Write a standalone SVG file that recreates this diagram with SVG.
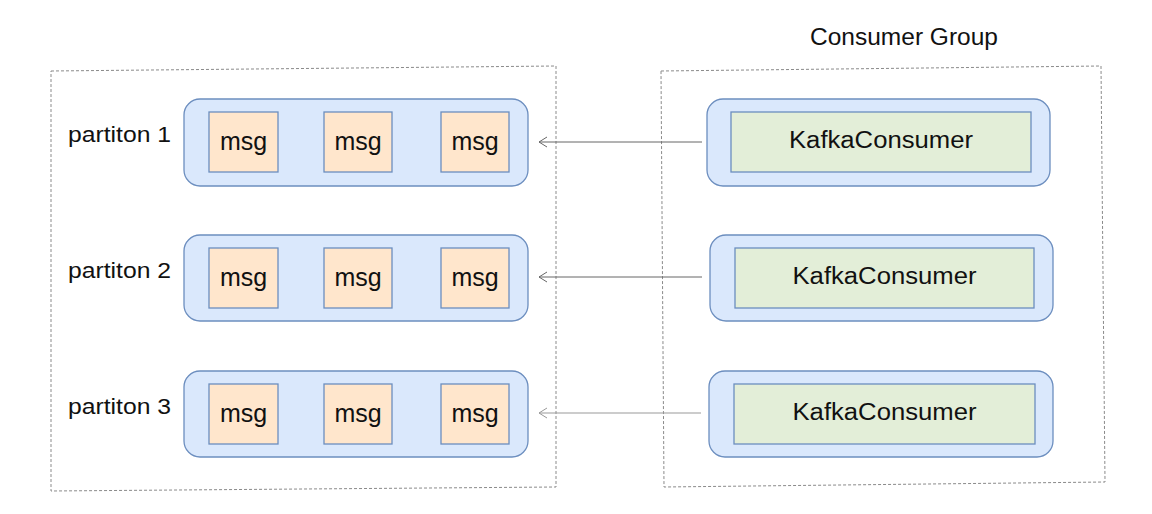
<svg xmlns="http://www.w3.org/2000/svg" width="1152" height="514" viewBox="0 0 1152 514">
<defs>
<style>
.frame{fill:none;stroke:#8a8a8a;stroke-width:1;stroke-dasharray:3 2}
.part{fill:#dae8fc;stroke:#6c8ebf;stroke-width:1.3}
.msg{fill:#ffe6cc;stroke:#6c8ebf;stroke-width:1.3}
.cons{fill:#e3eed8;stroke:#6c8ebf;stroke-width:1.3}
text{font-family:"Liberation Sans",Arial,sans-serif;fill:#111}
.m{font-size:25px;text-anchor:middle}
.lbl{font-size:22px}
.k{font-size:23px;text-anchor:middle}
.arr{fill:none;stroke-width:1}
</style>
<marker id="ah1" markerWidth="12" markerHeight="12" refX="9" refY="6" orient="auto" markerUnits="userSpaceOnUse">
<path d="M1,1 L9,6 L1,11" fill="none" stroke="#666" stroke-width="1"/>
</marker>
<marker id="ah3" markerWidth="12" markerHeight="12" refX="9" refY="6" orient="auto" markerUnits="userSpaceOnUse">
<path d="M1,1 L9,6 L1,11" fill="none" stroke="#999" stroke-width="1"/>
</marker>
</defs>
<rect width="1152" height="514" fill="#ffffff"/>

<g id="topic-frame">
<polygon class="frame" points="51,71 556,66 556,487 51,491"/>
</g>
<g id="consumer-group-frame">
<polygon class="frame" points="661,71 1101,66 1105,482 664,487"/>
<text x="810" y="45" font-size="23" textLength="188" lengthAdjust="spacingAndGlyphs">Consumer Group</text>
</g>

<g id="partition1">
<text class="lbl" x="68" y="142" textLength="103" lengthAdjust="spacingAndGlyphs">partiton 1</text>
<rect class="part" x="184" y="99" width="344" height="87" rx="16"/>
<rect class="msg" x="209" y="112" width="69" height="60"/>
<rect class="msg" x="324" y="112" width="68" height="60"/>
<rect class="msg" x="441" y="112" width="68" height="60"/>
<text class="m" x="243.5" y="150">msg</text>
<text class="m" x="358" y="150">msg</text>
<text class="m" x="475" y="150">msg</text>
</g>
<g id="partition2">
<text class="lbl" x="68" y="278" textLength="103" lengthAdjust="spacingAndGlyphs">partiton 2</text>
<rect class="part" x="184" y="235" width="344" height="86" rx="16"/>
<rect class="msg" x="209" y="248" width="69" height="60"/>
<rect class="msg" x="324" y="248" width="68" height="60"/>
<rect class="msg" x="441" y="248" width="68" height="60"/>
<text class="m" x="243.5" y="286">msg</text>
<text class="m" x="358" y="286">msg</text>
<text class="m" x="475" y="286">msg</text>
</g>
<g id="partition3">
<text class="lbl" x="68" y="414" textLength="103" lengthAdjust="spacingAndGlyphs">partiton 3</text>
<rect class="part" x="184" y="371" width="344" height="86" rx="16"/>
<rect class="msg" x="209" y="384" width="69" height="60"/>
<rect class="msg" x="324" y="384" width="68" height="60"/>
<rect class="msg" x="441" y="384" width="68" height="60"/>
<text class="m" x="243.5" y="422">msg</text>
<text class="m" x="358" y="422">msg</text>
<text class="m" x="475" y="422">msg</text>
</g>

<g id="consumer1">
<rect class="part" x="707" y="99" width="343" height="87" rx="16"/>
<rect class="cons" x="731" y="112" width="300" height="60"/>
<text class="k" x="881" y="148" textLength="184" lengthAdjust="spacingAndGlyphs">KafkaConsumer</text>
</g>
<g id="consumer2">
<rect class="part" x="710" y="235" width="343" height="86" rx="16"/>
<rect class="cons" x="735" y="248" width="299" height="60"/>
<text class="k" x="884.5" y="284" textLength="184" lengthAdjust="spacingAndGlyphs">KafkaConsumer</text>
</g>
<g id="consumer3">
<rect class="part" x="709" y="371" width="344" height="86" rx="16"/>
<rect class="cons" x="734" y="384" width="301" height="60"/>
<text class="k" x="884.5" y="420" textLength="184" lengthAdjust="spacingAndGlyphs">KafkaConsumer</text>
</g>

<g id="connectors">
<line class="arr" x1="702" y1="142" x2="539" y2="142" stroke="#666" marker-end="url(#ah1)"/>
<line class="arr" x1="702" y1="277" x2="539" y2="277" stroke="#666" marker-end="url(#ah1)"/>
<line class="arr" x1="701" y1="413" x2="539" y2="413" stroke="#999" marker-end="url(#ah3)"/>
</g>
</svg>
